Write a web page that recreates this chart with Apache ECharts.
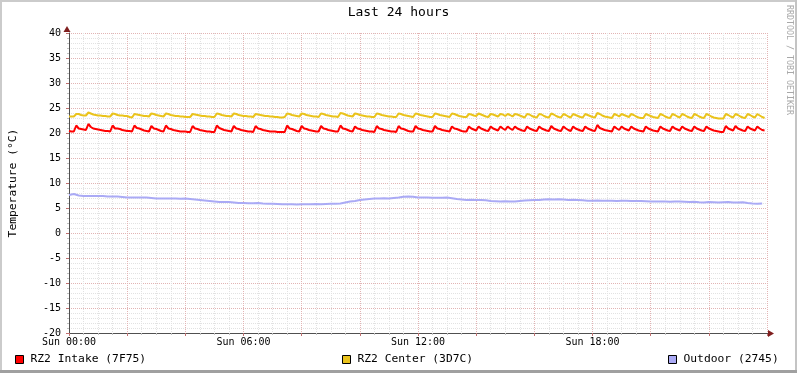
<!DOCTYPE html>
<html>
<head>
<meta charset="utf-8">
<script src="https://cdn.jsdelivr.net/npm/echarts@6/dist/echarts.min.js"></script>
<style>
html,body{margin:0;padding:0;background:#fff;}
#chart{width:797px;height:373px;}
</style>
</head>
<body>
<div id="chart"></div>
<script>
// ---- data ----
const titleText = 'Last 24 hours';
const yAxisName = 'Temperature (°C)';
const watermark = 'RRDTOOL / TOBI OETIKER';
const seriesNames = ['RZ2 Intake (7F75)', 'RZ2 Center (3D7C)', 'Outdoor (2745)'];
const xTickValues = [0, 360, 720, 1080];            // minutes since Sun 00:00
const xTickLabels = ['Sun 00:00', 'Sun 06:00', 'Sun 12:00', 'Sun 18:00'];
const yTickLabels = [-20, -15, -10, -5, 0, 5, 10, 15, 20, 25, 30, 35, 40];
const intakeStep = 5;   // minutes per sample
const centerStep = 5;
const outdoorStep = 10;

const intakeValues = [
20.4,20.3,20.3,21.5,20.9,20.8,20.7,20.6,21.8,21.2,20.9,20.8,
20.7,20.6,20.5,20.4,20.4,20.3,21.5,20.9,20.9,20.8,20.6,20.5,
20.4,20.4,20.3,21.5,21.0,20.9,20.7,20.5,20.4,20.3,21.4,20.9,
20.8,20.6,20.4,20.3,21.5,20.9,20.8,20.6,20.5,20.4,20.3,20.3,
20.3,20.2,20.2,21.4,20.9,20.8,20.6,20.5,20.4,20.3,20.3,20.2,
20.2,21.5,21.0,20.8,20.6,20.5,20.4,20.3,21.4,20.9,20.8,20.6,
20.5,20.4,20.3,20.3,20.2,21.4,20.9,20.8,20.6,20.5,20.4,20.3,
20.3,20.3,20.2,20.2,20.2,20.2,21.5,20.9,20.8,20.6,20.4,20.3,
21.4,20.9,20.8,20.6,20.5,20.4,20.3,20.3,21.4,20.9,20.8,20.6,
20.5,20.4,20.3,20.3,21.5,20.9,20.8,20.6,20.4,20.3,21.3,20.9,
20.8,20.6,20.5,20.4,20.3,20.3,20.2,21.4,20.9,20.8,20.6,20.5,
20.4,20.3,20.3,20.2,21.4,20.9,20.8,20.6,20.4,20.3,20.3,21.4,
20.9,20.8,20.6,20.5,20.4,20.3,20.3,21.4,20.9,20.8,20.6,20.5,
20.4,20.3,21.3,20.9,20.8,20.6,20.4,20.3,20.3,21.3,20.9,20.7,
20.5,21.3,20.9,20.7,20.5,20.4,21.3,20.9,20.7,20.5,21.3,20.9,
20.6,21.3,20.9,20.6,21.3,20.9,20.7,20.5,20.4,21.3,20.9,20.7,
20.5,20.4,21.3,20.9,20.7,20.5,20.4,21.4,20.9,20.7,20.5,20.4,
21.3,20.9,20.6,20.4,21.3,20.9,20.7,20.5,20.4,21.3,20.9,20.7,
20.5,20.4,21.6,21.0,20.8,20.6,20.5,20.4,20.3,21.3,20.9,20.6,
21.3,20.9,20.7,20.5,21.3,20.9,20.7,20.5,20.4,20.3,21.3,20.9,
20.7,20.5,20.4,20.3,21.3,20.9,20.7,20.5,20.4,21.3,20.9,20.7,
20.5,21.3,20.9,20.7,20.5,20.4,21.3,20.9,20.7,20.5,20.4,21.3,
20.9,20.7,20.5,20.4,20.3,20.2,20.2,21.4,20.9,20.7,20.5,21.4,
20.9,20.7,20.5,20.4,21.3,20.9,20.7,20.5,21.3,20.9,20.6,20.5
];

const centerValues = [
23.3,23.3,23.3,23.8,23.8,23.6,23.5,23.5,24.1,23.9,23.7,23.6,
23.5,23.5,23.4,23.4,23.3,23.3,23.9,23.8,23.6,23.5,23.5,23.4,
23.4,23.2,23.1,23.8,23.7,23.6,23.5,23.4,23.4,23.3,23.9,23.8,
23.6,23.5,23.4,23.3,23.9,23.8,23.6,23.5,23.4,23.4,23.3,23.3,
23.2,23.2,23.2,23.8,23.7,23.6,23.5,23.4,23.4,23.3,23.3,23.2,
23.2,23.9,23.8,23.6,23.5,23.4,23.4,23.3,23.9,23.8,23.6,23.5,
23.4,23.4,23.3,23.3,23.2,23.8,23.7,23.6,23.5,23.4,23.4,23.3,
23.3,23.2,23.2,23.1,23.1,23.2,23.9,23.8,23.6,23.5,23.4,23.3,
23.9,23.8,23.6,23.5,23.4,23.3,23.3,23.2,23.9,23.8,23.6,23.5,
23.4,23.3,23.3,23.2,24.0,23.9,23.7,23.5,23.4,23.3,23.9,23.8,
23.6,23.5,23.4,23.3,23.3,23.2,23.2,23.9,23.8,23.6,23.5,23.4,
23.3,23.3,23.2,23.2,23.9,23.8,23.6,23.5,23.4,23.3,23.2,23.9,
23.8,23.6,23.5,23.4,23.3,23.2,23.2,23.9,23.8,23.6,23.5,23.4,
23.3,23.2,23.9,23.8,23.6,23.4,23.3,23.2,23.2,23.8,23.7,23.5,
23.4,23.9,23.7,23.5,23.3,23.2,23.8,23.7,23.5,23.3,23.8,23.7,
23.4,23.8,23.6,23.3,23.8,23.7,23.5,23.3,23.1,23.8,23.7,23.4,
23.2,23.1,23.8,23.7,23.4,23.2,23.1,23.9,23.7,23.4,23.2,23.1,
23.8,23.6,23.3,23.1,23.8,23.6,23.4,23.2,23.1,23.8,23.6,23.4,
23.2,23.1,24.0,23.8,23.5,23.3,23.2,23.1,23.0,23.8,23.6,23.3,
23.8,23.6,23.4,23.2,23.8,23.6,23.3,23.1,23.0,23.0,23.8,23.6,
23.4,23.2,23.1,23.0,23.8,23.6,23.3,23.1,23.0,23.8,23.6,23.3,
23.1,23.8,23.6,23.3,23.1,23.0,23.8,23.6,23.3,23.1,23.0,23.8,
23.6,23.3,23.1,23.0,22.9,22.9,22.9,23.8,23.6,23.3,23.1,23.8,
23.6,23.3,23.1,23.0,23.8,23.6,23.3,23.1,23.8,23.5,23.2,23.0
];

const outdoorValues = [
7.6,7.8,7.5,7.4,7.4,7.4,7.4,7.4,7.3,7.3,7.3,7.2,
7.1,7.1,7.1,7.1,7.1,7.0,6.9,6.9,6.9,6.9,6.9,6.85,
6.9,6.8,6.7,6.6,6.5,6.4,6.3,6.2,6.2,6.2,6.1,6.0,
6.0,5.95,5.95,6.0,5.9,5.85,5.85,5.8,5.75,5.75,5.75,5.7,
5.75,5.75,5.75,5.8,5.75,5.8,5.85,5.85,5.9,6.1,6.3,6.4,
6.6,6.7,6.8,6.9,6.9,6.95,6.9,7.0,7.1,7.25,7.3,7.25,
7.1,7.1,7.1,7.05,7.05,7.05,7.1,6.95,6.8,6.7,6.6,6.65,
6.6,6.6,6.55,6.4,6.35,6.3,6.35,6.3,6.3,6.4,6.5,6.55,
6.6,6.6,6.7,6.75,6.7,6.75,6.7,6.6,6.65,6.6,6.55,6.45,
6.45,6.5,6.45,6.45,6.45,6.4,6.45,6.45,6.4,6.4,6.4,6.35,
6.3,6.3,6.3,6.3,6.25,6.3,6.3,6.25,6.2,6.25,6.15,6.1,
6.2,6.15,6.1,6.15,6.2,6.1,6.1,6.15,6.0,5.9,5.85,5.9
];

const seriesColors = ['#ff0000', '#eac31c', '#aaaaf5'];

// ---- chart ----
const FONT = 'DejaVu Sans Mono';
const GL = 67, GR = 767, GT = 33, GB = 333;
const chart = echarts.init(document.getElementById('chart'), null, {renderer: 'canvas'});

function toPairs(vals, step) { return vals.map((v, i) => [i * step, v]); }

const legendLefts = [15, 342, 668];

const option = {
  animation: false,
  backgroundColor: '#ffffff',
  title: {
    text: titleText, left: 'center', top: 6, padding: 0,
    textStyle: {fontFamily: FONT, fontSize: 13, fontWeight: 'normal', color: '#000'}
  },
  grid: {left: GL, right: 797 - GR, top: GT, bottom: 373 - GB, containLabel: false},
  legend: seriesNames.map((n, i) => ({
    data: [n], left: legendLefts[i], top: 354, padding: 0,
    icon: 'rect', itemWidth: 8, itemHeight: 8,
    itemStyle: {borderColor: '#000', borderWidth: 1},
    textStyle: {fontFamily: FONT, fontSize: 11.3, color: '#000', padding: [0, 0, 0, 2]},
    selectedMode: false
  })),
  xAxis: {
    type: 'value', min: 0, max: 1440, interval: 120,
    axisLine: {show: true, onZero: false, lineStyle: {color: '#505050', width: 1}},
    axisTick: {show: true, length: 3, lineStyle: {color: '#c07070'}},
    minorTick: {show: true, splitNumber: 4, length: 2, lineStyle: {color: '#c0c0c0'}},
    axisLabel: {
      fontFamily: FONT, fontSize: 10, color: '#000', margin: 4,
      showMinLabel: true, showMaxLabel: false,
      formatter: v => { const i = xTickValues.indexOf(v); return i >= 0 ? xTickLabels[i] : ''; }
    },
    splitLine: {show: true, lineStyle: {color: '#e2b4b4', type: [1, 1], width: 1}},
    minorSplitLine: {show: true, lineStyle: {color: '#e2e2e2', type: [1, 1], width: 1}}
  },
  yAxis: {
    type: 'value', min: yTickLabels[0], max: yTickLabels[yTickLabels.length - 1], interval: 5,
    name: yAxisName, nameLocation: 'middle', nameGap: 50, nameRotate: 90,
    nameTextStyle: {fontFamily: FONT, fontSize: 11.3, color: '#000'},
    axisLine: {show: true, onZero: false, lineStyle: {color: '#505050', width: 1}},
    axisTick: {show: true, length: 3, lineStyle: {color: '#c07070'}},
    minorTick: {show: true, splitNumber: 5, length: 2, lineStyle: {color: '#c0c0c0'}},
    axisLabel: {fontFamily: FONT, fontSize: 10, color: '#000', margin: 8},
    splitLine: {show: true, lineStyle: {color: '#e2b4b4', type: [1, 1], width: 1}},
    minorSplitLine: {show: true, lineStyle: {color: '#e2e2e2', type: [1, 1], width: 1}}
  },
  series: [
    {name: seriesNames[0], type: 'line', data: toPairs(intakeValues, intakeStep)},
    {name: seriesNames[1], type: 'line', data: toPairs(centerValues, centerStep)},
    {name: seriesNames[2], type: 'line', data: toPairs(outdoorValues, outdoorStep)}
  ].map((s, i) => Object.assign(s, {
    showSymbol: false, symbol: 'none', smooth: false,
    color: seriesColors[i],
    lineStyle: {color: seriesColors[i], width: 2},
    itemStyle: {color: seriesColors[i]},
    z: 3 + (2 - i)
  })),
  graphic: [
    // y axis arrow
    {type: 'polygon', z: 100, shape: {points: [[GL, GT - 7], [GL - 3.5, GT - 1], [GL + 3.5, GT - 1]]}, style: {fill: '#7f1e1e'}},
    // x axis line extension + arrow
    {type: 'line', z: 100, shape: {x1: GR, y1: GB + 0.5, x2: GR + 2, y2: GB + 0.5}, style: {stroke: '#505050', lineWidth: 1}},
    {type: 'polygon', z: 100, shape: {points: [[GR + 7, GB + 0.5], [GR + 1, GB - 3], [GR + 1, GB + 4]]}, style: {fill: '#7f1e1e'}},
    // watermark
    {type: 'text', z: 100, x: 789, y: 5, rotation: -Math.PI / 2,
     style: {text: watermark, fontFamily: FONT, fontSize: 8.3, fill: '#a8a8a8', textAlign: 'left', textVerticalAlign: 'middle'}},
    // frame shading
    {type: 'rect', z: 101, shape: {x: 0, y: 0, width: 797, height: 2}, style: {fill: '#cbcbcb'}},
    {type: 'rect', z: 101, shape: {x: 0, y: 0, width: 2, height: 373}, style: {fill: '#cbcbcb'}},
    {type: 'rect', z: 101, shape: {x: 795, y: 0, width: 2, height: 373}, style: {fill: '#c4c4c4'}},
    {type: 'rect', z: 101, shape: {x: 0, y: 370, width: 797, height: 3}, style: {fill: '#a0a0a0'}}
  ]
};
chart.setOption(option);
</script>
</body>
</html>
